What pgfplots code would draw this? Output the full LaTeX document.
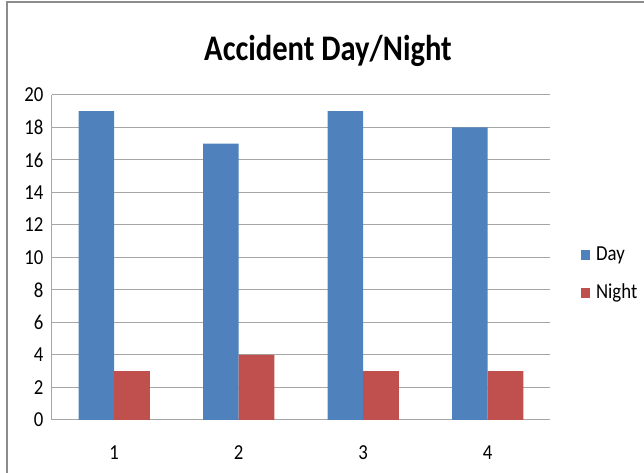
\documentclass[border=0pt]{standalone}
\usepackage{pgfplots}
\pgfplotsset{compat=1.18}
\usepackage{fontspec}
\setmainfont{Carlito}
\definecolor{dayc}{HTML}{4F81BD}
\definecolor{nightc}{HTML}{C0504D}
\definecolor{gridc}{HTML}{A6A6A6}
\definecolor{borderc}{HTML}{8C8C8C}
\begin{document}
\begin{tikzpicture}
\useasboundingbox (0,0) rectangle (483pt,354.75pt);
\draw[borderc, line width=1pt] (5.25pt,0) -- (5.25pt,353.25pt) -- (483pt,353.25pt);
\node[font=\fontsize{27}{30}\selectfont\bfseries] at (246pt,316.5pt) {\scalebox{0.85}[1]{Accident Day/Night}};
\begin{axis}[
  at={(39pt,39.75pt)}, anchor=south west,
  scale only axis, width=373.5pt, height=243.75pt,
  ybar=0pt, bar width=26.7pt,
  xmin=0.5, xmax=4.5, ymin=0, ymax=20,
  xtick={1,2,3,4}, ytick={0,2,...,20},
  ymajorgrids, grid style={gridc, line width=0.75pt},
  axis x line*=bottom, axis y line*=left,
  axis line style={gridc, line width=0.75pt},
  x axis line style={-}, y axis line style={-},
  major tick length=0pt,
  tick style={draw=none},
  ticklabel style={font=\fontsize{16}{19}\selectfont},
  /pgf/number format/assume math mode=true,
  xticklabel={\scalebox{0.88}[1]{\pgfmathprintnumber{\tick}}},
  yticklabel={\scalebox{0.88}[1]{\pgfmathprintnumber{\tick}}},
  yticklabel style={xshift=-3pt},
  xticklabel style={yshift=-16pt},
  legend style={at={(1.054,0.449)}, anchor=west, draw=none, fill=none,
    font=\fontsize{16}{19}\selectfont, row sep=14pt,
    nodes={inner sep=1pt}},
  legend cell align=left,
  legend image code/.code={\fill[#1] (0pt,-3.75pt) rectangle (7pt,3.75pt);},
]
\addplot[fill=dayc, draw=none] coordinates {(1,19) (2,17) (3,19) (4,18)};
\addplot[fill=nightc, draw=none] coordinates {(1,3) (2,4) (3,3) (4,3)};
\legend{\scalebox{0.88}[1]{\ Day}, \scalebox{0.88}[1]{\ Night}}
\end{axis}
\end{tikzpicture}
\end{document}
